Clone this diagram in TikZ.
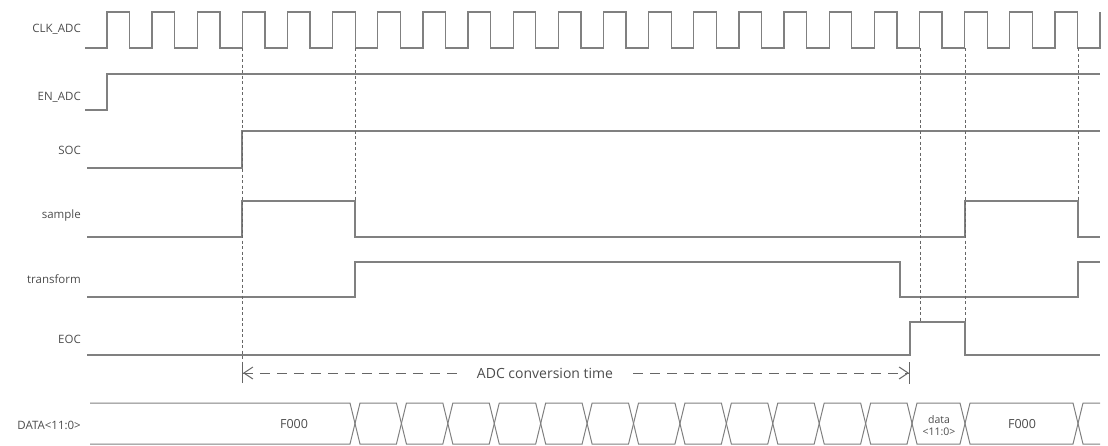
\documentclass[tikz,border=0pt]{standalone}
\usepackage{fontspec}
\setmainfont{Open Sans}
\usetikzlibrary{arrows.meta}

\begin{document}
\begin{tikzpicture}[x=1pt,y=-1pt,
    sig/.style={draw=black!50,line width=1.3pt},
    bus/.style={draw=black!50,line width=1pt},
    guide/.style={draw=black!60,line width=0.9pt,dash pattern=on 3pt off 2.5pt},
    span/.style={draw=black!60,line width=1pt,dash pattern=on 10pt off 7pt},
    lbl/.style={anchor=east,inner sep=0pt,text=black!70,font=\fontsize{11.5}{13}\selectfont},
    val/.style={text=black!70,font=\fontsize{12.5}{14}\selectfont}]
   \useasboundingbox (0,0) rectangle (1108,445);

   \node[lbl] (clk) at (81,29)  {CLK\_ADC};
   \node[lbl] (en)  at (81,97)  {EN\_ADC};
   \node[lbl] (soc) at (81,150) {SOC};
   \node[lbl] (smp) at (81,216) {sample};
   \node[lbl] (trf) at (81,279) {transform};
   \node[lbl] (eoc) at (81,339) {EOC};
   \node[lbl] (dat) at (81,425) {DATA<11:0>};

   % clock
   \draw[sig] (85,48) -- (107,48)
     \foreach \k in {0,...,21}{ -- ++(0,-36) -- ++(22.57,0) -- ++(0,36) -- ++(22.57,0) }
     -- ++(0,-36);

   \draw[sig] (85,110) -- (107,110) -- (107,74) -- (1100,74);
   \draw[sig] (87,168) -- (242,168) -- (242,131) -- (1100,131);
   \draw[sig] (87,237) -- (242,237) -- (242,201) -- (355,201) -- (355,237)
     -- (965,237) -- (965,201) -- (1078,201) -- (1078,237) -- (1100,237);
   \draw[sig] (87,297) -- (355,297) -- (355,262) -- (900,262) -- (900,297)
     -- (1078,297) -- (1078,262) -- (1100,262);
   \draw[sig] (87,355) -- (910,355) -- (910,322) -- (965,322) -- (965,355) -- (1100,355);

   % guides
   \draw[guide] (242,48) -- (242,363);
   \draw[guide] (355,48) -- (355,201);
   \draw[guide] (920,48) -- (920,322);
   \draw[guide] (965,48) -- (965,322);
   \draw[guide] (1078,48) -- (1078,201);

   % conversion time
   \coordinate (convL) at (242,373);
   \coordinate (convR) at (910,373);
   \node[val,font=\fontsize{14}{16}\selectfont,inner xsep=20pt] (conv) at (545,373) {ADC conversion time};
   \draw[span,{Bar[width=20pt]Straight Barb[length=9pt,width=12pt]}-] (convL) -- (conv.west);
   \draw[span,-{Straight Barb[length=9pt,width=12pt]Bar[width=22pt]}] (conv.east) -- (convR);

   % data bus
   \draw[bus] (90,403) -- (350,403) -- (355,423.5) -- (350,444) -- (90,444);
   \foreach \i in {0,...,11}{
     \pgfmathsetmacro\a{355+46.42*\i}
     \pgfmathsetmacro\b{\a+46.42}
     \draw[bus] (\a,423.5) -- (\a+5,403) -- (\b-5,403) -- (\b,423.5) -- (\b-5,444) -- (\a+5,444) -- cycle;
   }
   \draw[bus] (912,423.5) -- (917,403) -- (960,403) -- (965,423.5) -- (960,444) -- (917,444) -- cycle;
   \draw[bus] (965,423.5) -- (970,403) -- (1073,403) -- (1078,423.5) -- (1073,444) -- (970,444) -- cycle;
   \draw[bus] (1100,403) -- (1083,403) -- (1078,423.5) -- (1083,444) -- (1100,444);

   \node[val] (f000a) at (294,424) {F000};
   \node[val,align=center,font=\fontsize{10.5}{12}\selectfont] (dval) at (939,426) {data\\<11:0>};
   \node[val] (f000b) at (1022,424) {F000};
\end{tikzpicture}
\end{document}
